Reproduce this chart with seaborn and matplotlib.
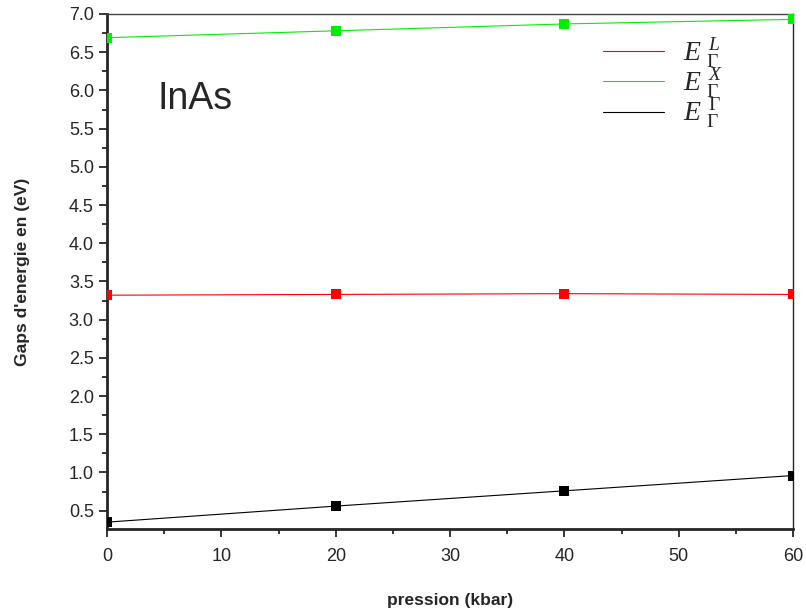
import matplotlib
matplotlib.use("Agg")
import matplotlib.pyplot as plt
import seaborn as sns
import pandas as pd
from matplotlib.ticker import MultipleLocator

pression = [0, 20, 40, 60]
gap_L = [3.32, 3.33, 3.34, 3.33]
gap_X = [6.69, 6.78, 6.87, 6.93]
gap_G = [0.35, 0.56, 0.76, 0.96]
labels = [r"$E\;{}_{\Gamma}^{\,L}$", r"$E\;{}_{\Gamma}^{\,X}$", r"$E\;{}_{\Gamma}^{\,\Gamma}$"]
colors = ["#ff0000", "#00ee00", "#000000"]

sns.set_style("ticks")
plt.rcParams["font.family"] = ["Liberation Sans", "DejaVu Sans"]
plt.rcParams["mathtext.fontset"] = "custom"
plt.rcParams["mathtext.rm"] = "Liberation Serif"
plt.rcParams["mathtext.it"] = "Liberation Serif:italic"

fig = plt.figure(figsize=(8.06, 6.14), dpi=100)
ax = fig.add_axes([0.1328, 0.1384, 0.8511, 0.8388])

for vals, lab, col in zip([gap_L, gap_X, gap_G], labels, colors):
    df = pd.DataFrame({"p": pression, "E": vals})
    sns.lineplot(data=df, x="p", y="E", ax=ax, color=col, lw=0.8, label=lab)
    sns.scatterplot(data=df, x="p", y="E", ax=ax, color=col, marker="s", s=50,
                    edgecolor=col, linewidth=0, legend=False, zorder=3)

ax.set_xlim(0, 60)
ax.set_ylim(0.26, 7.0)
ax.xaxis.set_major_locator(MultipleLocator(10))
ax.xaxis.set_minor_locator(MultipleLocator(5))
ax.set_yticks([0.5 + 0.5 * i for i in range(14)])
ax.yaxis.set_minor_locator(MultipleLocator(0.25))
ax.tick_params(which="major", direction="out", length=6, width=1.3, labelsize=13)
ax.tick_params(axis="x", which="major", pad=8)
ax.tick_params(which="minor", direction="out", length=3.5, width=1.3)
for s in ["left", "bottom"]:
    ax.spines[s].set_linewidth(2)
for s in ["right", "top"]:
    ax.spines[s].set_visible(True)
    ax.spines[s].set_linewidth(1)
ax.spines["top"].set_color("#444444")

ax.set_xlabel("pression (kbar)", fontsize=12.5, fontweight="bold", labelpad=20)
ax.set_ylabel("Gaps d'energie en (eV)", fontsize=12.5, fontweight="bold", labelpad=28)
ax.text(0.073, 0.835, "InAs", transform=ax.transAxes, fontsize=27, va="center", ha="left")

leg = ax.legend(loc="upper right", bbox_to_anchor=(0.935, 1.005), frameon=False,
                fontsize=20, handlelength=2.2, handletextpad=0.7, labelspacing=-0.12)

fig.savefig("out.png", dpi=100)
